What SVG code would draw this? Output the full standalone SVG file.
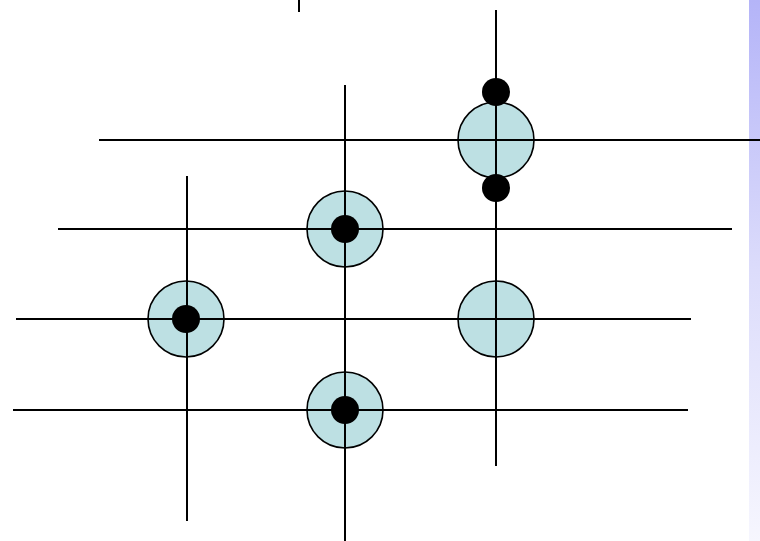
<svg xmlns="http://www.w3.org/2000/svg" width="760" height="541" viewBox="0 0 760 541">
<defs>
<linearGradient id="strip" x1="0" y1="0" x2="0" y2="1">
<stop offset="0" stop-color="#b4b4f8"/>
<stop offset="0.5" stop-color="#dcdcfb"/>
<stop offset="1" stop-color="#f6f6fe"/>
</linearGradient>
<style>
.ring{fill:#bde0e3;stroke:#000;stroke-width:1.6}
.ln{stroke:#000;stroke-width:2;fill:none}
.dot{fill:#000}
</style>
</defs>
<rect x="0" y="0" width="760" height="541" fill="#fff"/>
<rect x="749" y="0" width="11" height="541" fill="url(#strip)"/>
<g id="rings">
<circle id="n1" class="ring" cx="496" cy="140" r="38"/>
<circle id="n2" class="ring" cx="345" cy="229" r="38"/>
<circle id="n3" class="ring" cx="186" cy="319" r="38"/>
<circle id="n4" class="ring" cx="496" cy="319" r="38"/>
<circle id="n5" class="ring" cx="345" cy="410" r="38"/>
</g>
<g id="connectors">
<line class="ln" x1="99" y1="140" x2="760" y2="140"/>
<line class="ln" x1="58" y1="229" x2="732" y2="229"/>
<line class="ln" x1="16" y1="319" x2="691" y2="319"/>
<line class="ln" x1="13" y1="410" x2="688" y2="410"/>
<line class="ln" x1="187" y1="176" x2="187" y2="521"/>
<line class="ln" x1="345" y1="85" x2="345" y2="541"/>
<line class="ln" x1="496" y1="10" x2="496" y2="466"/>
<line class="ln" x1="299" y1="0" x2="299" y2="12"/>
</g>
<g id="dots">
<circle id="d1" class="dot" cx="496" cy="92" r="14"/>
<circle id="d2" class="dot" cx="496" cy="188" r="14"/>
<circle id="d3" class="dot" cx="345" cy="229" r="14"/>
<circle id="d4" class="dot" cx="186" cy="319" r="14"/>
<circle id="d5" class="dot" cx="345" cy="410" r="14"/>
</g>
</svg>
